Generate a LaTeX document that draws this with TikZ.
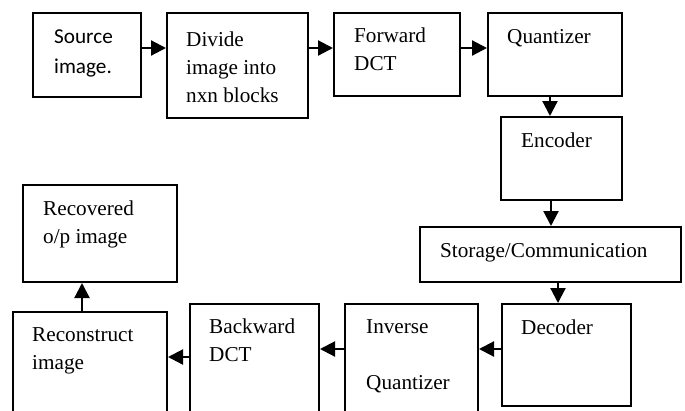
\documentclass[tikz,border=0pt]{standalone}
\usepackage{fontspec}
\setmainfont{Liberation Serif}
\newfontfamily\calibrifont{Carlito}
\usetikzlibrary{arrows.meta}
\begin{document}
\begin{tikzpicture}[x=1pt,y=-1pt,
  box/.style={draw, line width=2pt, inner sep=0pt, anchor=north west},
  txt/.style={anchor=north west, inner sep=0pt, align=left, font=\fontsize{21.2}{28}\selectfont},
  arr/.style={line width=2.2pt, -{Triangle[length=15pt,width=15pt]}}]
\useasboundingbox (0,0) rectangle (685,410);
\clip (0,0) rectangle (685,410);
% boxes
\node[box, minimum width=108pt, minimum height=84pt] (src) at (32,12) {};
\node[box, minimum width=141pt, minimum height=105pt] (div) at (166,12) {};
\node[box, minimum width=126pt, minimum height=83pt] (fwd) at (333,12) {};
\node[box, minimum width=134pt, minimum height=83pt] (qnt) at (487,12) {};
\node[box, minimum width=121pt, minimum height=83pt] (enc) at (500,116) {};
\node[box, minimum width=261pt, minimum height=55pt] (sto) at (419,226) {};
\node[box, minimum width=129pt, minimum height=102pt] (dec) at (501,303) {};
\node[box, minimum width=133pt, minimum height=130pt] (inv) at (344,303) {};
\node[box, minimum width=129pt, minimum height=130pt] (bwd) at (189,303) {};
\node[box, minimum width=154pt, minimum height=120pt] (rec) at (12,311) {};
\node[box, minimum width=154pt, minimum height=97pt] (out) at (22,184) {};
% texts
\node[txt, font=\fontsize{21.2}{30}\selectfont\calibrifont] (srct) at ([xshift=22pt,yshift=-10pt]src.north west) {\strut Source\\\strut image.};
\node[txt] (divt) at ([xshift=20pt,yshift=-14.4pt]div.north west) {\strut Divide\\\strut image into\\\strut nxn blocks};
\node[txt] (fwdt) at ([xshift=21pt,yshift=-10.4pt]fwd.north west) {\strut Forward\\\strut DCT};
\node[txt] (qntt) at ([xshift=20pt,yshift=-11.4pt]qnt.north west) {\strut Quantizer};
\node[txt] (enct) at ([xshift=21pt,yshift=-11.4pt]enc.north west) {\strut Encoder};
\node[txt] (stot) at ([xshift=21pt,yshift=-11.4pt]sto.north west) {\strut Storage/Communication};
\node[txt] (dect) at ([xshift=20pt,yshift=-11.4pt]dec.north west) {\strut Decoder};
\node[txt] (invt) at ([xshift=22pt,yshift=-10.4pt]inv.north west) {\strut Inverse\\\strut\\\strut Quantizer};
\node[txt] (bwdt) at ([xshift=20pt,yshift=-10.4pt]bwd.north west) {\strut Backward\\\strut DCT};
\node[txt] (rect) at ([xshift=20pt,yshift=-10.4pt]rec.north west) {\strut Reconstruct\\\strut image};
\node[txt] (outt) at ([xshift=21pt,yshift=-11.4pt]out.north west) {\strut Recovered\\\strut o/p image};
% connectors
\draw[arr] ([yshift=-36pt]src.north east) -- ([yshift=-36pt]src.north east -| div.west);
\draw[arr] ([yshift=-36pt]div.north east) -- ([yshift=-36pt]div.north east -| fwd.west);
\draw[arr] ([yshift=-36pt]fwd.north east) -- ([yshift=-36pt]fwd.north east -| qnt.west);
\draw[arr] ([xshift=63pt]qnt.south west) -- ([xshift=63pt]qnt.south west |- enc.north);
\draw[arr] ([xshift=51pt]enc.south west) -- ([xshift=51pt]enc.south west |- sto.north);
\draw[arr] ([xshift=139pt]sto.south west) -- ([xshift=139pt]sto.south west |- dec.north);
\draw[arr] ([yshift=-46pt]dec.north west) -- ([yshift=-46pt]dec.north west -| inv.east);
\draw[arr] ([yshift=-46pt]inv.north west) -- ([yshift=-46pt]inv.north west -| bwd.east);
\draw[arr] ([yshift=-54pt]bwd.north west) -- ([yshift=-54pt]bwd.north west -| rec.east);
\draw[arr] ([xshift=70pt]rec.north west) -- ([xshift=70pt]rec.north west |- out.south);
\end{tikzpicture}
\end{document}
